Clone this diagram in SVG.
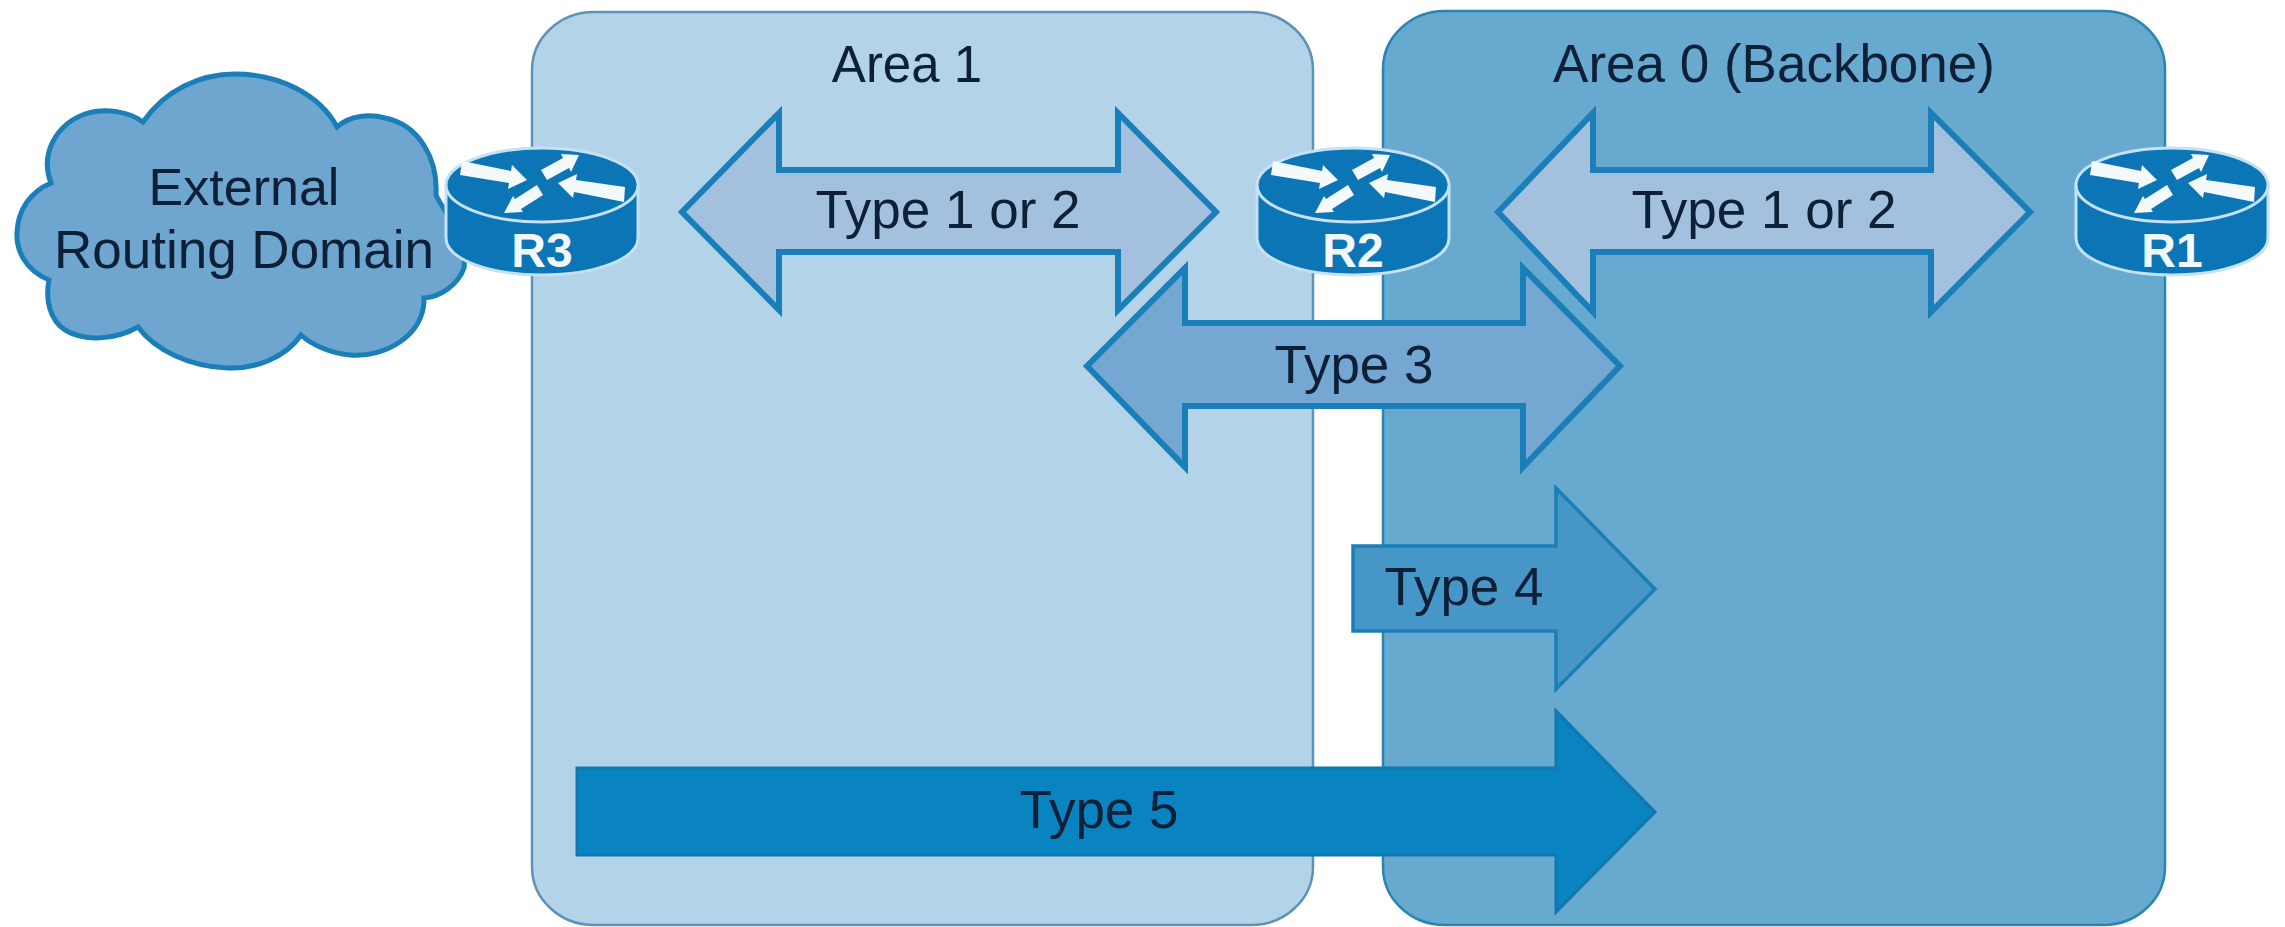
<svg xmlns="http://www.w3.org/2000/svg" width="2285" height="927" viewBox="0 0 2285 927">
<style>
text{font-family:"Liberation Sans",Arial,sans-serif;font-size:53px;fill:#0e1f38;text-anchor:middle}
.rl{font-size:48px;font-weight:bold;fill:#f2f8fc}
.a{stroke:#1a7fb8;stroke-width:6;stroke-linejoin:miter}
</style>
<defs>
<g id="router">
<path d="M-96 0V53C-96 74-53 90 0 90S96 74 96 53V0Z" fill="#0b75b5" stroke="#c4e2f3" stroke-width="3"/>
<ellipse cx="0" cy="0" rx="96" ry="37" fill="#0b75b5" stroke="#c4e2f3" stroke-width="3"/>
<g fill="#f4f9fc">
<polygon points="-80,-24 -31,-14 -30,-20 -15,-5 -34,4 -33,-2 -82,-10"/>
<polygon points="16,-2 35,-11 34,-5 83,2 82,17 32,7 31,13"/>
<polygon points="-1,-15 21,-27 19,-31 37,-30 29,-13 27,-17 5,-5"/>
<polygon points="-5,0 -27,14 -29,11 -38,28 -19,27 -21,24 1,10"/>
</g>
</g>
</defs>
<rect width="2285" height="927" fill="#fff"/>
<g id="area1">
<rect x="532" y="12" width="781" height="913" rx="62" ry="58" fill="#b3d3e8" stroke="#5e92b8" stroke-width="2.5"/>
<text x="907" y="82" style="font-size:51px">Area 1</text>
</g>
<g id="area0">
<rect x="1383" y="11" width="782" height="914" rx="62" ry="58" fill="#68a9cf" stroke="#2a85b5" stroke-width="2.5"/>
<text x="1774" y="82">Area 0 (Backbone)</text>
</g>
<g id="cloud">
<path d="M143 122C165 90 200 74 235 74C280 74 320 95 337 127C350 115 370 114 385 118C420 125 438 160 436 195C445 215 468 235 464 268C458 285 440 297 424 298C425 335 385 358 350 355C330 353 312 345 301 335C285 358 255 369 228 368C190 367 155 350 138 327C115 340 85 342 65 330C50 320 45 300 49 280C25 270 16 250 17 232C18 210 30 192 51 183C40 155 55 125 85 114C105 107 130 112 143 122Z" fill="#6ea6d0" stroke="#1a7fb8" stroke-width="5"/>
<text x="244" y="205" style="font-size:52px">External</text>
<text x="244" y="268">Routing Domain</text>
</g>
<g id="connectors">
<g id="lsa-area1">
<polygon class="a" fill="#a3c1de" points="682,212 779,113 779,170 1118,170 1118,113 1216,212 1118,310 1118,252 779,252 779,310"/>
<text x="948" y="228">Type 1 or 2</text>
</g>
<g id="lsa-area0">
<polygon class="a" fill="#a3c1de" points="1498,212 1593,113 1593,170 1931,170 1931,113 2030,212 1931,312 1931,252 1593,252 1593,312"/>
<text x="1764" y="228">Type 1 or 2</text>
</g>
<g id="lsa-type3">
<polygon class="a" fill="#74a7d2" points="1087,366 1185,268 1185,323 1523,323 1523,268 1620,366 1523,467 1523,406 1185,406 1185,467"/>
<text x="1354" y="383">Type 3</text>
</g>
<g id="lsa-type4">
<polygon fill="#4796c8" stroke="#1a7fb8" stroke-width="3.5" points="1353,546 1556,546 1556,488 1655,589 1556,689 1556,631 1353,631"/>
<text x="1464" y="605">Type 4</text>
</g>
<g id="lsa-type5">
<polygon fill="#0a84c1" stroke="#0f78b0" stroke-width="3" points="577,768 1556,768 1556,711 1655,812 1556,912 1556,855 577,855"/>
<text x="1099" y="828">Type 5</text>
</g>
</g>
<g id="r3"><use href="#router" x="542" y="185"/><text class="rl" x="542" y="267">R3</text></g>
<g id="r2"><use href="#router" x="1353" y="185"/><text class="rl" x="1353" y="267">R2</text></g>
<g id="r1"><use href="#router" x="2172" y="185"/><text class="rl" x="2172" y="267">R1</text></g>
</svg>
